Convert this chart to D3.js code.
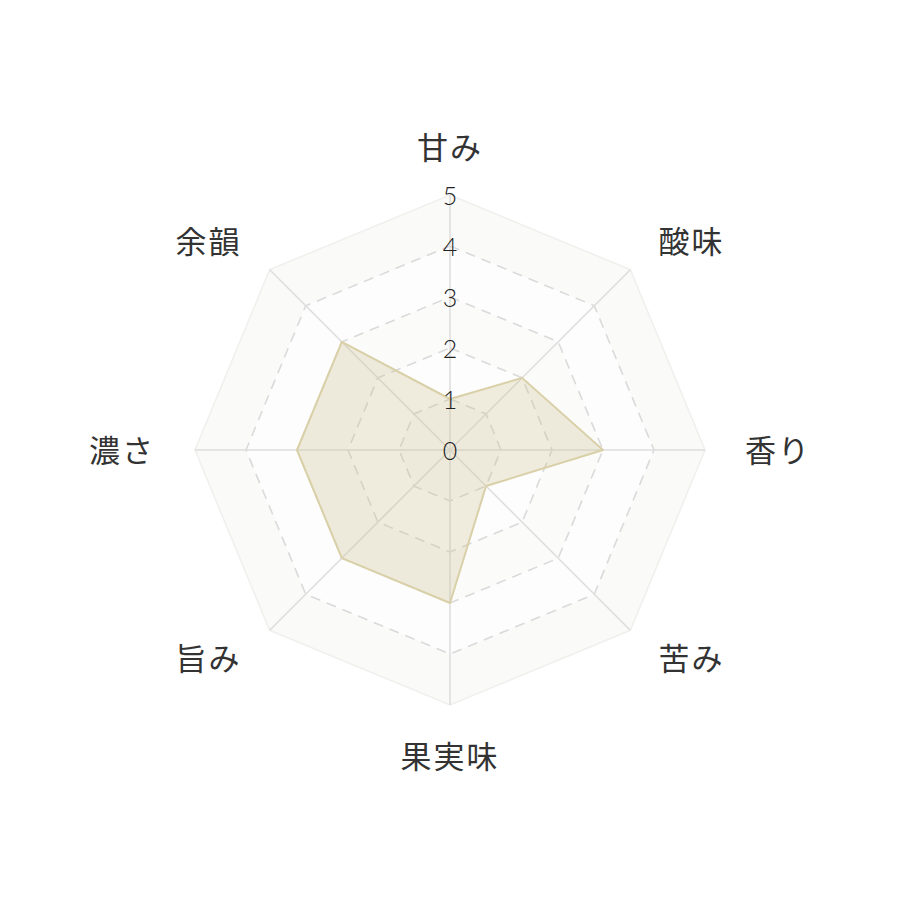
<!DOCTYPE html>
<html>
<head>
<meta charset="utf-8">
<script src="https://cdn.jsdelivr.net/npm/d3@7"></script>
<style>
  body { margin: 0; background: #fff; }
</style>
</head>
<body>
<div id="radar"></div>
<script>
const axes = ["甘み", "酸味", "香り", "苦み", "果実味", "旨み", "濃さ", "余韻"];
const values = [1, 2, 3, 1, 3, 3, 3, 3];
const ticks = [0, 1, 2, 3, 4, 5];

const width = 900, height = 900,
  cx = 450, cy = 450,
  radius = 255;

const svg = d3.select("#radar").append("svg")
  .attr("width", width)
  .attr("height", height)
  .style("display", "block");

const r = d3.scaleLinear().domain([0, 5]).range([0, radius]);
const angle = d3.scaleLinear().domain([0, axes.length]).range([0, 2 * Math.PI]);

// point on the i-th axis at value v
const pt = (i, v) => {
  const a = angle(i);
  return [cx + r(v) * Math.sin(a), cy - r(v) * Math.cos(a)];
};

const ring = v => d3.line()(axes.map((d, i) => pt(i, v))) + "Z";

const g = svg.append("g");

// split areas, outer to inner
const bandColors = ["#fafaf9", "#fdfdfd", "#fbfbfa", "#fdfdfd", "#fbfbfa"];
g.selectAll("path.band")
  .data(ticks.slice(1).reverse())
  .join("path")
  .attr("class", "band")
  .attr("d", d => ring(d))
  .attr("fill", (d, i) => bandColors[i]);

// split lines
g.selectAll("path.split")
  .data(ticks.slice(1))
  .join("path")
  .attr("class", "split")
  .attr("d", d => ring(d))
  .attr("fill", "none")
  .attr("stroke", d => d === 5 ? "#f0f0ee" : "#dadada")
  .attr("stroke-width", 1.6)
  .attr("stroke-dasharray", d => d === 5 ? null : "10,7");

// axis lines
g.selectAll("line.axis")
  .data(axes)
  .join("line")
  .attr("class", "axis")
  .attr("x1", cx).attr("y1", cy)
  .attr("x2", (d, i) => pt(i, 5)[0])
  .attr("y2", (d, i) => pt(i, 5)[1])
  .attr("stroke", "#dddddd")
  .attr("stroke-width", 1.5);

// data area
g.append("path")
  .datum(values)
  .attr("d", d3.line()(values.map((v, i) => pt(i, v))) + "Z")
  .attr("fill", "rgba(200,185,130,0.26)")
  .attr("stroke", "#d9d0a8")
  .attr("stroke-width", 2)
  .attr("stroke-linejoin", "round");

// tick labels on the vertical axis
g.selectAll("text.tick")
  .data(ticks)
  .join("text")
  .attr("class", "tick")
  .attr("x", cx)
  .attr("y", d => cy - r(d))
  .attr("text-anchor", "middle")
  .attr("dominant-baseline", "central")
  .attr("font-family", "Lato, 'Open Sans', sans-serif")
  .attr("font-weight", 300)
  .attr("font-size", 25)
  .attr("fill", "#222")
  .text(d => d);

// axis names
const gap = 40;
g.selectAll("text.name")
  .data(axes)
  .join("text")
  .attr("class", "name")
  .each(function (d, i) {
    const a = angle(i);
    const s = Math.sin(a), c = Math.cos(a);
    const x = cx + (radius + gap) * s,
      y = cy - (radius + gap) * c;
    d3.select(this)
      .attr("x", x)
      .attr("y", y)
      .attr("text-anchor", s > 0.1 ? "start" : s < -0.1 ? "end" : "middle")
      .attr("dy", c > 0.9 ? "0.12em" : c < -0.9 ? "0.75em" : "0.38em");
  })
  .attr("font-family", "'Noto Sans CJK JP', sans-serif")
  .attr("font-size", 31)
  .attr("letter-spacing", 2)
  .attr("fill", "#333")
  .text(d => d);
</script>
</body>
</html>
